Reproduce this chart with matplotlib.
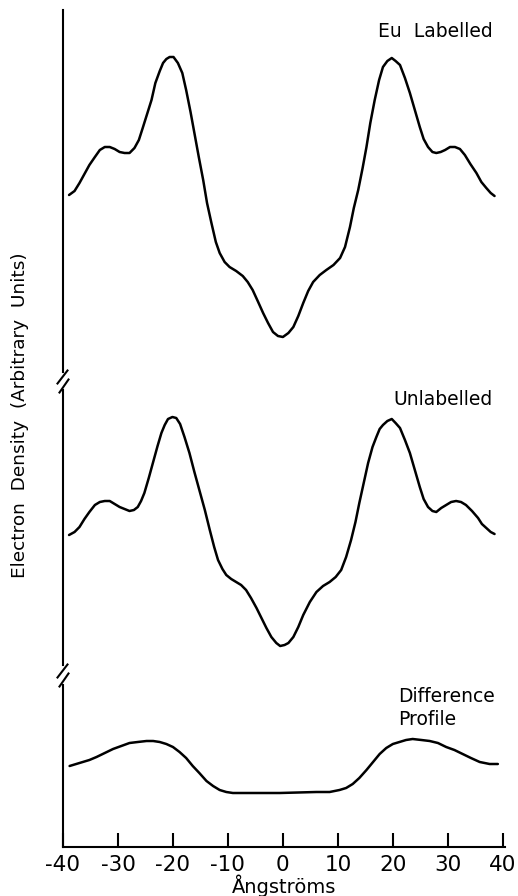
import numpy as np
import matplotlib.pyplot as plt
from matplotlib.lines import Line2D

plt.rcParams["font.family"] = "DejaVu Sans"
plt.rcParams["axes.unicode_minus"] = False

# Eu labelled profile, arbitrary units
eu_x = [-38.9, -37.9, -37.0, -36.1, -35.2, -34.2, -33.3, -32.4, -31.5, -30.6,
        -29.7, -28.8, -27.9, -27.0, -26.2, -25.5, -24.7, -23.9, -23.2, -22.4,
        -21.8, -21.2, -20.6, -19.9, -19.1, -18.3, -17.6, -16.8, -16.1, -15.3,
        -14.5, -13.8, -13.0, -12.2, -11.5, -10.6, -9.7, -8.5, -7.3, -6.4,
        -5.5, -4.5, -3.6, -2.7, -1.8, -0.9, 0.0, 1.0, 1.9, 2.8,
        3.7, 4.6, 5.5, 6.7, 7.9, 9.2, 10.4, 11.3, 12.2, 12.9,
        13.7, 14.5, 15.2, 15.9, 16.7, 17.5, 18.2, 19.0, 19.8, 20.5,
        21.3, 22.2, 23.1, 24.0, 24.9, 25.6, 26.4, 27.2, 27.9, 28.7,
        29.5, 30.4, 31.3, 32.2, 33.1, 34.1, 35.2, 36.1, 37.0, 37.8,
        38.5]
eu_y = [18.6, 19.0, 19.8, 20.7, 21.6, 22.4, 23.1, 23.4, 23.4, 23.2,
        22.9, 22.8, 22.8, 23.3, 24.1, 25.3, 26.7, 28.1, 29.8, 31.0,
        31.8, 32.2, 32.4, 32.4, 31.8, 30.8, 29.1, 26.9, 24.8, 22.4,
        20.1, 17.8, 15.8, 13.9, 12.8, 11.9, 11.4, 11.0, 10.5, 9.9,
        9.1, 7.9, 6.8, 5.8, 4.9, 4.5, 4.4, 4.8, 5.4, 6.5,
        7.8, 9.0, 9.9, 10.6, 11.1, 11.6, 12.3, 13.4, 15.4, 17.3,
        19.1, 21.3, 23.4, 25.8, 28.1, 30.1, 31.4, 32.0, 32.3, 32.0,
        31.6, 30.3, 28.8, 27.1, 25.4, 24.2, 23.4, 22.9, 22.8, 22.9,
        23.1, 23.4, 23.4, 23.2, 22.6, 21.7, 20.8, 19.9, 19.3, 18.8,
        18.5]

# unlabelled profile
unl_x = [-38.9, -37.9, -37.0, -36.1, -35.2, -34.2, -33.3, -32.4, -31.5, -30.6,
         -29.7, -28.8, -27.9, -27.1, -26.4, -25.8, -25.2, -24.4, -23.6, -22.8,
         -22.1, -21.5, -20.9, -20.1, -19.4, -18.7, -17.9, -17.0, -16.1, -15.2,
         -14.2, -13.3, -12.5, -11.8, -11.0, -10.3, -9.4, -8.5, -7.6, -6.7,
         -5.8, -4.8, -3.9, -3.0, -2.1, -1.2, -0.5, 0.3, 1.0, 1.9,
         2.8, 3.7, 4.9, 6.1, 7.3, 8.5, 9.6, 10.6, 11.5, 12.4,
         13.2, 13.9, 14.7, 15.5, 16.3, 17.0, 17.6, 18.2, 19.0, 19.8,
         20.5, 21.3, 22.2, 23.1, 24.0, 24.9, 25.6, 26.4, 27.2, 27.9,
         28.8, 29.7, 30.6, 31.5, 32.4, 33.3, 34.4, 35.5, 36.2, 37.0,
         37.8, 38.5]
unl_y = [13.8, 14.1, 14.6, 15.4, 16.1, 16.8, 17.1, 17.2, 17.2, 16.9,
         16.6, 16.4, 16.2, 16.3, 16.6, 17.2, 18.0, 19.5, 21.1, 22.7,
         24.0, 24.8, 25.4, 25.6, 25.5, 24.9, 23.6, 22.0, 20.1, 18.3,
         16.3, 14.3, 12.6, 11.3, 10.4, 9.8, 9.4, 9.1, 8.8, 8.3,
         7.5, 6.5, 5.5, 4.5, 3.6, 3.0, 2.7, 2.8, 3.0, 3.6,
         4.6, 5.8, 7.1, 8.1, 8.7, 9.1, 9.6, 10.3, 11.6, 13.3,
         15.1, 17.0, 19.0, 21.0, 22.6, 23.6, 24.4, 24.8, 25.2, 25.4,
         25.0, 24.5, 23.3, 22.0, 20.3, 18.6, 17.4, 16.6, 16.2, 16.1,
         16.5, 16.8, 17.1, 17.2, 17.1, 16.8, 16.2, 15.5, 14.9, 14.5,
         14.1, 13.9]

# difference profile
diff_x = [-38.8, -37.6, -36.4, -35.2, -33.9, -32.4, -30.9, -29.4, -27.9, -26.4,
          -24.8, -23.6, -22.4, -21.2, -20.0, -18.8, -17.6, -16.4, -15.2, -13.9,
          -12.7, -11.5, -10.3, -9.1, -7.9, -0.6, 6.1, 8.5, 10.3, 11.5,
          12.7, 13.9, 15.2, 16.4, 17.6, 18.8, 20.0, 21.2, 22.4, 23.6,
          25.2, 26.7, 28.2, 29.7, 31.2, 32.7, 34.2, 35.8, 36.7, 37.6,
          39.1]
diff_y = [8.1, 8.3, 8.5, 8.7, 9.0, 9.4, 9.8, 10.1, 10.4, 10.5,
          10.6, 10.6, 10.5, 10.3, 10.0, 9.5, 8.9, 8.1, 7.4, 6.6,
          6.1, 5.7, 5.5, 5.4, 5.4, 5.4, 5.5, 5.5, 5.7, 5.9,
          6.3, 6.9, 7.7, 8.5, 9.3, 9.9, 10.3, 10.5, 10.7, 10.8,
          10.7, 10.6, 10.4, 10.0, 9.7, 9.3, 8.9, 8.5, 8.4, 8.3,
          8.3]

xticks = [-40, -30, -20, -10, 0, 10, 20, 30, 40]

W, H = 518, 896
fig = plt.figure(figsize=(W / 100, H / 100), dpi=100)


def fx(px):
    return px / W


def fy(py):
    return 1 - py / H


x0, x1 = 63, 505
lw_axis = 1.5
lw_curve = 1.8

# (top px, bottom px, spine top px, spine bottom px)
panels = [(10, 381, 10, 372), (381, 673, 390, 665), (673, 847, 685, 847)]
curves = [(eu_x, eu_y), (unl_x, unl_y), (diff_x, diff_y)]
axes = []
for (top, bot, s_top, s_bot), (cx, cy) in zip(panels, curves):
    ax = fig.add_axes([fx(x0), fy(bot), fx(x1) - fx(x0), (bot - top) / H])
    ax.set_xlim(-40, 40.4)
    ax.set_ylim(0, (bot - top) / 10)
    ax.plot(cx, cy, color="black", lw=lw_curve, solid_capstyle="round",
            solid_joinstyle="round")
    for s in ["top", "right", "bottom"]:
        ax.spines[s].set_visible(False)
    ax.spines["left"].set_linewidth(lw_axis)
    ax.spines["left"].set_bounds((bot - s_bot) / 10, (bot - s_top) / 10)
    ax.tick_params(left=False, labelleft=False, bottom=False, labelbottom=False)
    ax.patch.set_visible(False)
    axes.append(ax)

ax = axes[-1]
ax.spines["bottom"].set_visible(True)
ax.spines["bottom"].set_linewidth(lw_axis)
ax.set_xticks(xticks)
ax.tick_params(bottom=True, labelbottom=True, direction="in", length=10,
               width=lw_axis, pad=6, labelsize=15.5)

# axis break marks
for yc in [381, 675]:
    for (a, b), (c, d) in [((-5.5, 2.5), (4.5, -10.5)), ((-3.5, 11.5), (5.5, -1.5))]:
        fig.add_artist(Line2D([fx(x0 + a), fx(x0 + c)], [fy(yc + b), fy(yc + d)],
                              color="black", lw=lw_axis))

fs = 13.5
fig.text(fx(493), fy(37), "Eu  Labelled", ha="right", va="baseline", fontsize=fs)
fig.text(fx(493), fy(405), "Unlabelled", ha="right", va="baseline", fontsize=fs)
fig.text(fx(398), fy(702), "Difference", ha="left", va="baseline", fontsize=fs)
fig.text(fx(398), fy(725), "Profile", ha="left", va="baseline", fontsize=fs)

fig.text(fx(284), fy(893), "Ångströms", ha="center", va="baseline", fontsize=14)
fig.text(fx(20), fy(415), "Electron  Density  (Arbitrary  Units)", rotation=90,
         ha="center", va="center", fontsize=13.3)

fig.savefig("out.png", dpi=100)
